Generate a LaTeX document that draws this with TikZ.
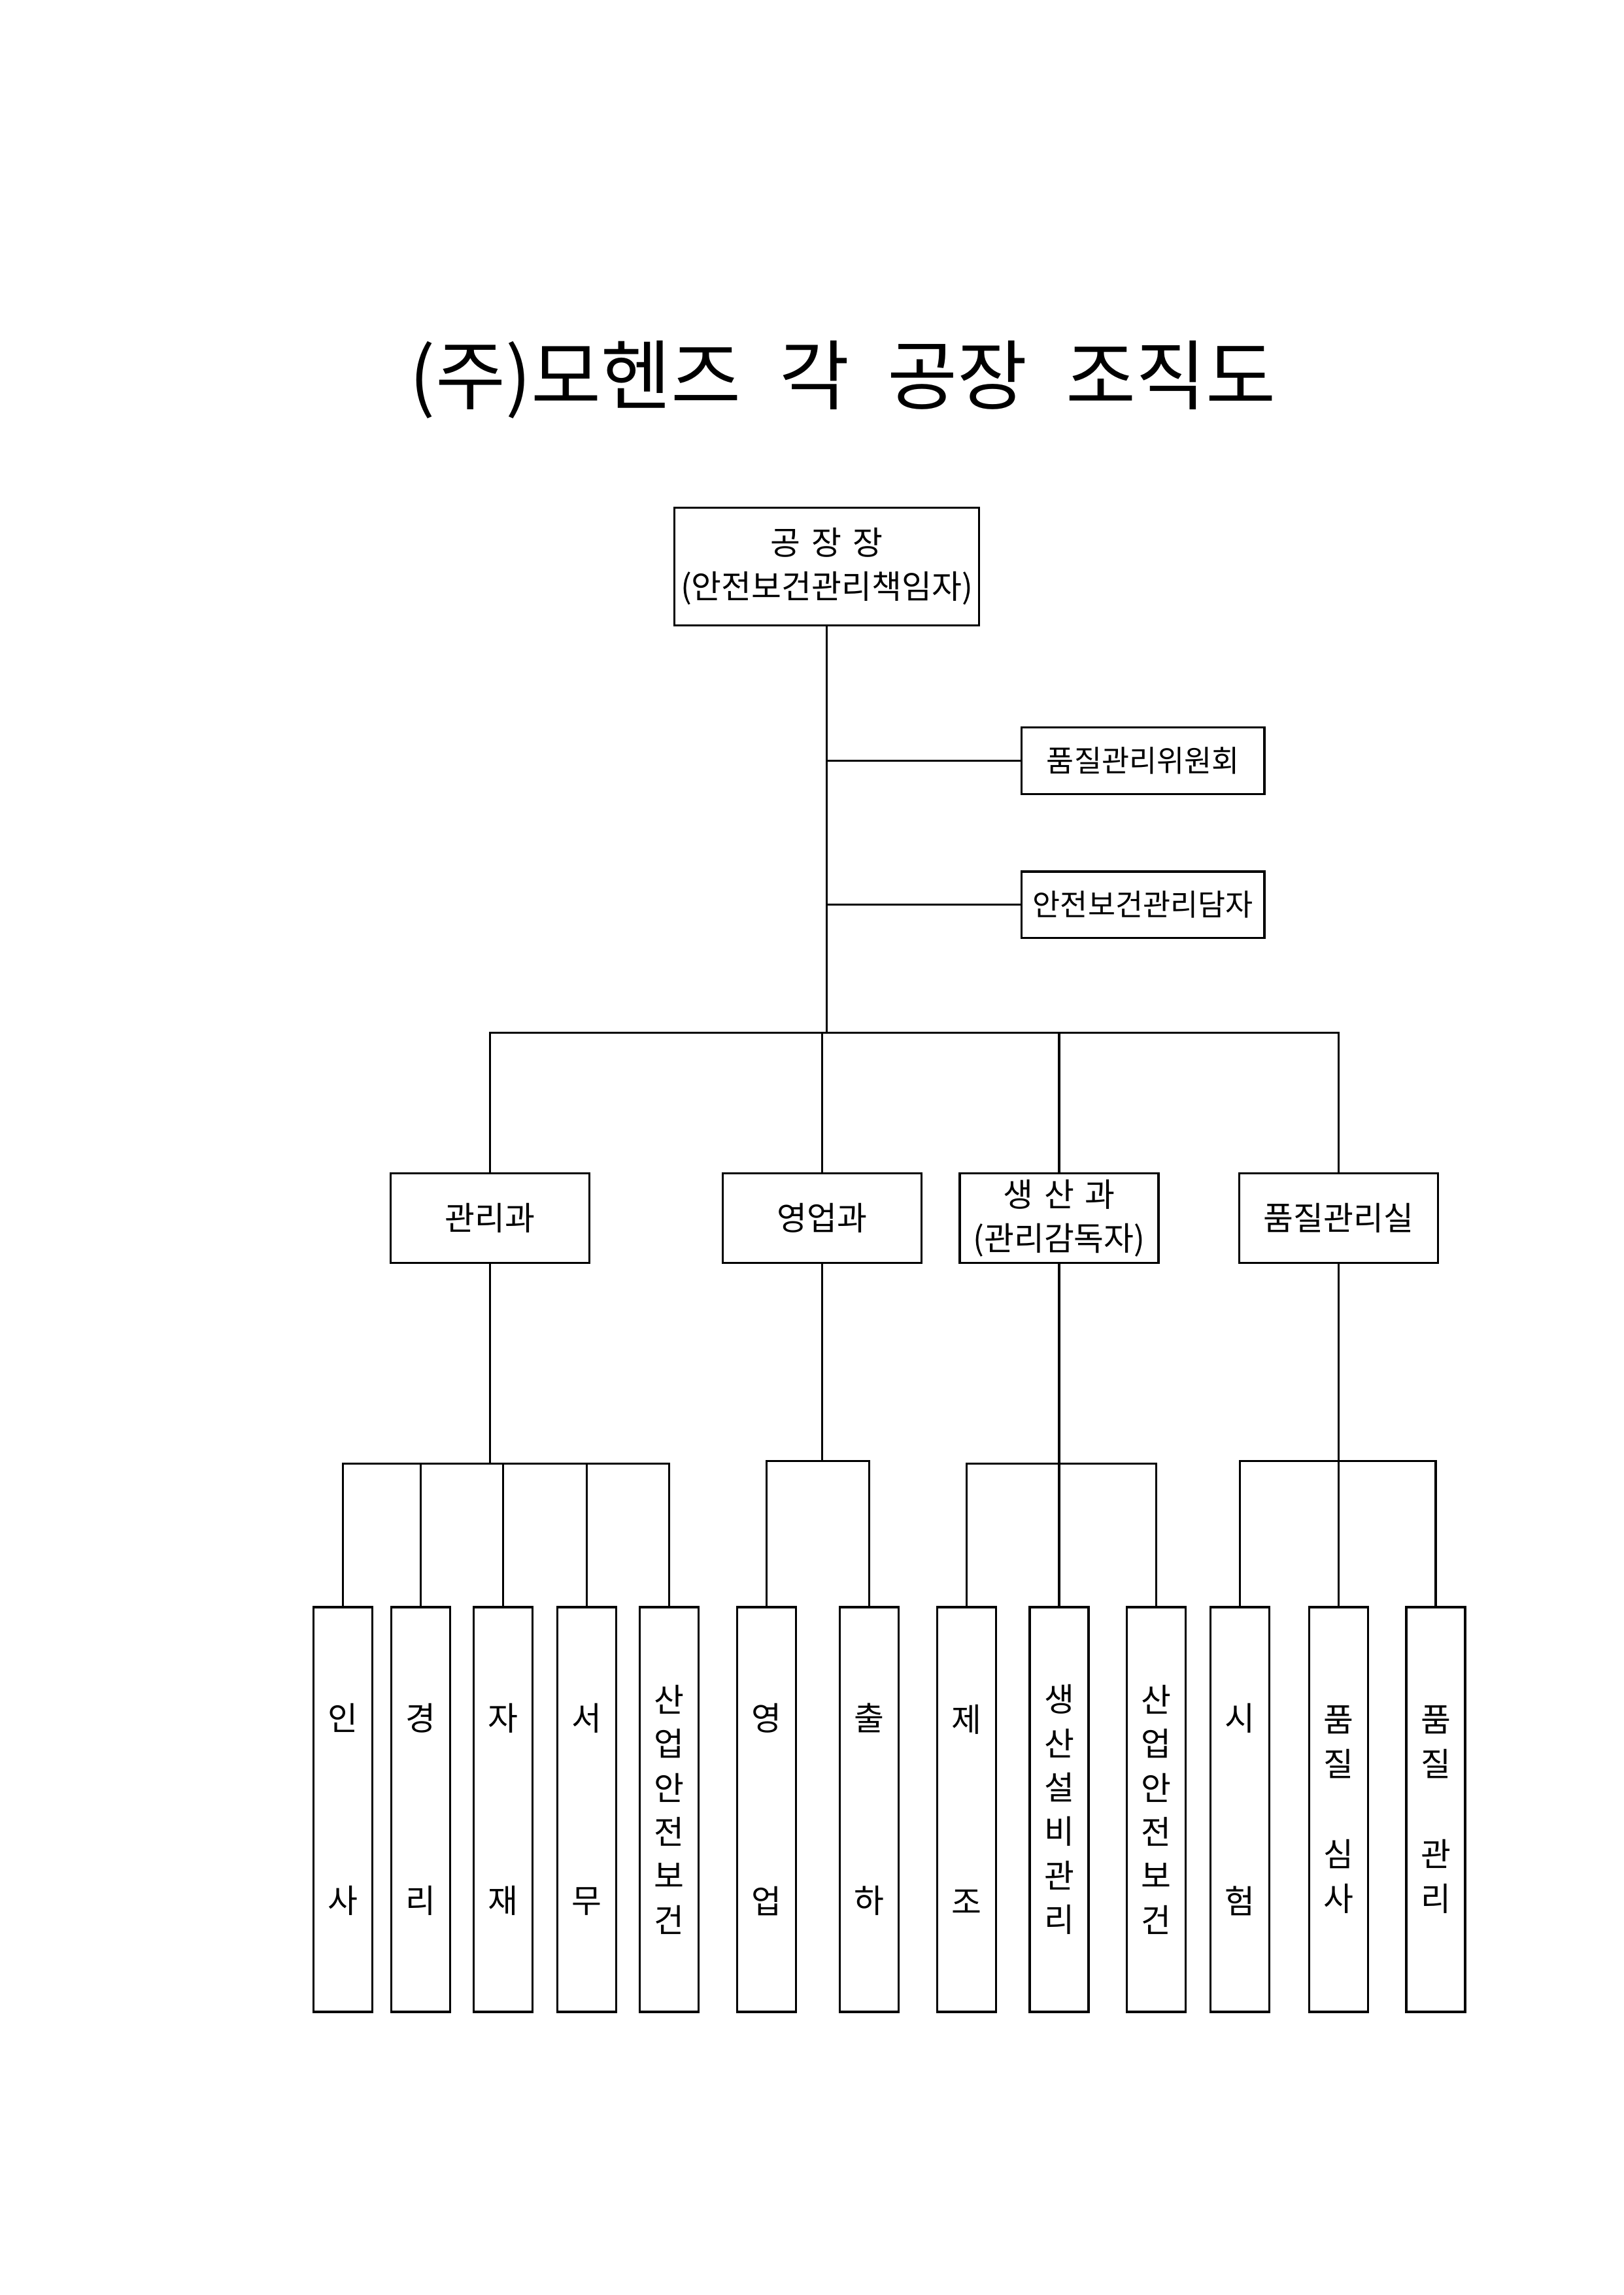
\documentclass[tikz,border=0pt]{standalone}
\usepackage{fontspec}
\setmainfont{Noto Sans CJK KR}
\usetikzlibrary{positioning}
\tikzset{
  box/.style={draw, thick, inner sep=0pt, align=center},
  lvl/.style={box, minimum width=2.57cm, minimum height=1.16cm, font=\fontsize{12}{16}\selectfont},
  side/.style={box, minimum width=3.14cm, minimum height=0.86cm, font=\fontsize{11}{14}\selectfont},
  leaf/.style={box, minimum width=0.76cm, minimum height=5.23cm, font=\fontsize{12}{16.2}\selectfont},
  wire/.style={thick}
}
\begin{document}
\begin{tikzpicture}[x=0.01902cm, y=-0.01902cm]
  \useasboundingbox (0,0) rectangle (1104,1560);

  % 제목
  \node[font=\fontsize{28}{34}\selectfont] (title) at (573,258) {(주)모헨즈\hspace{0.5em}각\hspace{0.5em}공장\hspace{0.5em}조직도};

  % 공장장
  \node[box, minimum width=3.94cm, minimum height=1.52cm, font=\fontsize{12}{16}\selectfont] (head) at (562,385) {공\,\,장\,\,장\\(안전보건관리책임자)};
  \node[side] (qc) at (777,517) {품질관리위원회};
  \node[side] (safe) at (777,615) {안전보건관리담자};

  % 과
  \node[lvl] (adm) at (333,828) {관리과};
  \node[lvl] (sales) at (559,828) {영업과};
  \node[lvl] (prod) at (720,828) {생\,\,산\,\,과\\(관리감독자)};
  \node[lvl] (qual) at (910,828) {품질관리실};

  % 하위 업무
  \node[leaf] (l1) at (233,1230) {인\\[1.79cm]사};
  \node[leaf] (l2) at (286,1230) {경\\[1.79cm]리};
  \node[leaf] (l3) at (342,1230) {자\\[1.79cm]재};
  \node[leaf] (l4) at (399,1230) {서\\[1.79cm]무};
  \node[leaf] (l5) at (455,1230) {산\\업\\안\\전\\보\\건};
  \node[leaf] (l6) at (521,1230) {영\\[1.79cm]업};
  \node[leaf] (l7) at (591,1230) {출\\[1.79cm]하};
  \node[leaf] (l8) at (657,1230) {제\\[1.79cm]조};
  \node[leaf] (l9) at (720,1230) {생\\산\\설\\비\\관\\리};
  \node[leaf] (l10) at (786,1230) {산\\업\\안\\전\\보\\건};
  \node[leaf] (l11) at (843,1230) {시\\[1.79cm]험};
  \node[leaf] (l12) at (910,1230) {품\\질\\[0.6cm]심\\사};
  \node[leaf] (l13) at (976,1230) {품\\질\\[0.6cm]관\\리};

  % 연결선
  \coordinate (bus) at (562,702);
  \draw[wire] (head.south) -- (bus);
  \draw[wire] (qc.west) -- (qc.west -| head.south);
  \draw[wire] (safe.west) -- (safe.west -| head.south);
  \draw[wire] (adm.north) |- (bus) -| (qual.north);
  \draw[wire] (bus -| sales.north) -- (sales.north);
  \draw[wire] (bus -| prod.north) -- (prod.north);

  \coordinate (b1) at (333,995);
  \draw[wire] (adm.south) -- (b1);
  \draw[wire] (l1.north) |- (b1) -| (l5.north);
  \foreach \n in {l2,l3,l4} \draw[wire] (\n.north) -- (\n.north |- b1);

  \coordinate (b2) at (559,993);
  \draw[wire] (sales.south) -- (b2);
  \draw[wire] (l6.north) |- (b2) -| (l7.north);

  \coordinate (b3) at (720,995);
  \draw[wire] (prod.south) -- (l9.north);
  \draw[wire] (l8.north) |- (b3) -| (l10.north);

  \coordinate (b4) at (910,993);
  \draw[wire] (qual.south) -- (l12.north);
  \draw[wire] (l11.north) |- (b4) -| (l13.north);
\end{tikzpicture}
\end{document}
